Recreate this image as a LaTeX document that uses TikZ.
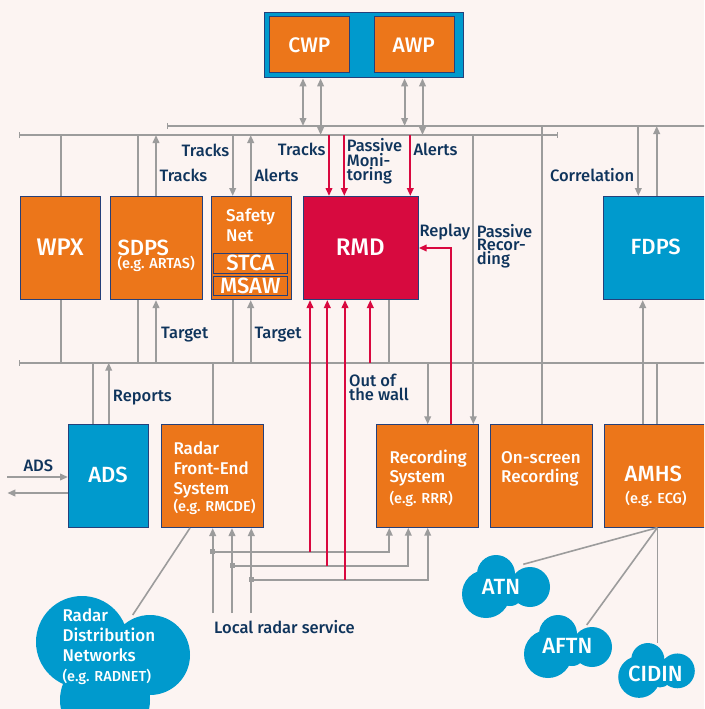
\documentclass[tikz,border=0pt]{standalone}
\usepackage{fontspec}
\setmainfont{Fira Sans}[UprightFont={* Medium}]
\usetikzlibrary{arrows.meta}
\definecolor{bgc}{RGB}{252,244,242}
\definecolor{orng}{RGB}{236,118,26}
\definecolor{blu}{RGB}{0,154,205}
\definecolor{crim}{RGB}{215,10,63}
\definecolor{bord}{RGB}{37,64,122}
\definecolor{gry}{RGB}{156,156,156}
\definecolor{navy}{RGB}{15,52,92}
\definecolor{redl}{RGB}{217,8,63}
\newcommand\fsLbl{\fontsize{16.5}{16.5}\selectfont}
\newcommand\fsTxt{\fontsize{17}{17}\selectfont}
\newcommand\fsBig{\fontsize{22}{22}\selectfont}
\newcommand\fsHuge{\fontsize{24}{24}\selectfont}
\newcommand\fsSm{\fontsize{14.5}{14.5}\selectfont}
\begin{document}
\begin{tikzpicture}[x=1pt,y=-1pt,
 >={Triangle[length=8pt,width=6.5pt]},
 gl/.style={draw=gry,line width=2pt},
 thin gl/.style={draw=gry,line width=1.6pt},
 rl/.style={draw=redl,line width=2pt},
 bx/.style={draw=bord,line width=1pt,inner sep=0pt,anchor=north west},
 wh/.style 2 args={minimum width=#1pt,minimum height=#2pt},
 ob/.style={bx,fill=orng},
 bb/.style={bx,fill=blu},
 cb/.style={bx,fill=crim},
 lbl/.style={text=navy,inner sep=0pt,font=\fsLbl,text height=11.6pt,text depth=0.6pt},
 mlbl/.style={text=navy,inner sep=0pt,align=left},
 wt/.style={text=white,inner sep=0pt,font=\fsTxt,text height=12pt,text depth=1pt},
 big/.style={text=white,inner sep=0pt,font=\fsBig},
 sm/.style={text=white,inner sep=0pt,font=\fsSm},
 jsq/.style={fill=gry,minimum size=5pt,inner sep=0pt},
 busbar/.tip={Bar[width=6pt,line width=1.2pt]},
 blob/.pic={\fill[blu] (-20,8) circle[radius=24] (-10,-12) circle[radius=19] (24,1) circle[radius=20] (4,6) circle[radius=14];}
]
\useasboundingbox (0,0) rectangle (704,709);
\clip (0,0) rectangle (704,709);
\fill[bgc] (0,0) rectangle (704,709);

% bus coordinates
\coordinate (bU) at (0,126);
\coordinate (bL) at (0,135);
\coordinate (bM) at (0,362.7);
\coordinate (bUa) at (167,126);
\coordinate (bUb) at (712,126);
\coordinate (bLa) at (19,135);
\coordinate (bLb) at (558,135);
\coordinate (bMa) at (19,362.7);
\coordinate (bMb) at (712,362.7);

% boxes
\node[bb,wh={198.9}{65}] (wsbox) at (263.6,12.3) {};
\node[ob,wh={79.9}{55.7}] (cwp) at (269.4,16) {};
\node[ob,wh={79.5}{55.7}] (awp) at (374,16) {};
\node[ob,wh={80}{103}] (wpx) at (20,196) {};
\node[ob,wh={92.3}{103}] (sdps) at (110,196) {};
\node[ob,wh={80}{103}] (sn) at (210.7,196) {};
\node[ob,wh={74}{19.4}] (stca) at (213.3,253.3) {};
\node[ob,wh={74}{19.3}] (msaw) at (213.3,276) {};
\node[cb,wh={114.7}{103}] (rmd) at (303,196) {};
\node[bb,wh={105}{103}] (fdps) at (603.3,196) {};
\node[bb,wh={79.7}{103.3}] (ads) at (68,424) {};
\node[ob,wh={102.6}{103}] (rfe) at (160.7,424) {};
\node[ob,wh={102}{102.4}] (rec) at (375.7,424.3) {};
\node[ob,wh={102}{102.4}] (osr) at (489.7,424.3) {};
\node[ob,wh={104}{102.4}] (amhs) at (604,424.3) {};

% buses
\draw[gl,{busbar}-] (bUa) -- (bUb);
\draw[gl,{busbar}-{busbar}] (bLa) -- (bLb);
\draw[gl,{busbar}-] (bMa) -- (bMb);

% workstation links
\draw[gl,<->] (303,0 |- wsbox.south) -- (303,0 |- bU);
\draw[gl,<->] (320.6,0 |- wsbox.south) -- (320.6,0 |- bL);
\draw[gl,<->] (404.6,0 |- wsbox.south) -- (404.6,0 |- bU);
\draw[gl,<->] (422.5,0 |- wsbox.south) -- (422.5,0 |- bL);

% WPX
\draw[gl] (61,0 |- bL) -- (61,0 |- wpx.north);
\draw[gl] (61,0 |- wpx.south) -- (61,0 |- bM);
% SDPS
\draw[gl] (138.3,0 |- bL) -- (138.3,0 |- sdps.north);
\draw[gl,->] (156,0 |- sdps.north) -- (156,0 |- bL);
\draw[gl] (138.3,0 |- sdps.south) -- (138.3,0 |- bM);
\draw[gl,->] (156,0 |- bM) -- (156,0 |- sdps.south);
% Safety net
\draw[gl,->] (232.7,0 |- bL) -- (232.7,0 |- sn.north);
\draw[gl,->] (250.7,0 |- sn.north) -- (250.7,0 |- bL);
\draw[gl] (232.7,0 |- sn.south) -- (232.7,0 |- bM);
\draw[gl,->] (250.7,0 |- bM) -- (250.7,0 |- sn.south);
% RMD
\draw[rl,->] (329,0 |- bL) -- (329,0 |- rmd.north);
\draw[rl,->] (344.3,0 |- bL) -- (344.3,0 |- rmd.north);
\draw[rl,->] (410.3,0 |- bL) -- (410.3,0 |- rmd.north);
\draw[rl,->] (370.3,0 |- bM) -- (370.3,0 |- rmd.south);
\draw[gl] (389.3,0 |- rmd.south) -- (389.3,0 |- bM);
% recording
\draw[gl,->] (473.3,0 |- bL) -- (473.3,0 |- rec.north);
\draw[gl,->] (427.7,0 |- bM) -- (427.7,0 |- rec.north);
\draw[rl,->] (450.7,0 |- rec.north) |- (rmd.east);
% on-screen
\draw[gl] (541.7,0 |- bU) -- (541.7,0 |- osr.north);
% FDPS
\draw[gl,->] (638.3,0 |- bU) -- (638.3,0 |- fdps.north);
\draw[gl,->] (656.7,0 |- fdps.north) -- (656.7,0 |- bU);
\draw[gl,->] (642.7,0 |- amhs.north) -- (642.7,0 |- fdps.south);
\draw[gl] (656.7,0 |- bM) -- (656.7,0 |- amhs.north);
% ADS
\draw[gl] (92.7,0 |- bM) -- (92.7,0 |- ads.north);
\draw[gl,->] (108.7,0 |- ads.north) -- (108.7,0 |- bM);
\coordinate (adsI) at (7.3,477);
\coordinate (adsO) at (7.3,493);
\draw[gl,->] (adsI) -- (adsI -| ads.west);
\draw[gl,->] (adsO -| ads.west) -- (adsO);
% radar front end
\draw[gl] (213.3,0 |- bM) -- (213.3,0 |- rfe.north);
% local radar service
\coordinate (lr1) at (212.7,613);
\coordinate (lr2) at (232,613);
\coordinate (lr3) at (251.3,613);
\draw[gl,->] (lr1) -- (lr1 |- rfe.south);
\draw[gl,->] (lr2) -- (lr2 |- rfe.south);
\draw[gl,->] (lr3) -- (lr3 |- rfe.south);
\node[jsq] (j1) at (212.7,551.7) {};
\node[jsq] (j2) at (232,565.7) {};
\node[jsq] (j3) at (251.3,579.7) {};
\draw[gl,->] (j1.center) -| (389.3,0 |- rec.south);
\draw[gl,->] (j2.center) -| (408.3,0 |- rec.south);
\draw[gl,->] (j3.center) -| (427.7,0 |- rec.south);
\coordinate (r1) at (310,551.7);
\coordinate (r2) at (327.3,565.7);
\coordinate (r3) at (345,579.7);
\draw[rl,->] (r1) -- (r1 |- rmd.south);
\draw[rl,->] (r2) -- (r2 |- rmd.south);
\draw[rl,->] (r3) -- (r3 |- rmd.south);

% cloud links
\coordinate (rdnT) at (132.7,615);
\coordinate (atnT) at (523.3,564.3);
\coordinate (aftnT) at (586.7,625);
\coordinate (cidT) at (657.3,643);
\coordinate (amB) at (657.3,0 |- amhs.south);
\draw[thin gl] (190,0 |- rfe.south) -- (rdnT);
\draw[thin gl] (amB) -- (atnT);
\draw[thin gl] (amB) -- (aftnT);
\draw[thin gl] (amB) -- (cidT);

% clouds
\fill[blu] (82,642) circle[radius=46] (150,655) circle[radius=40] (105,700) circle[radius=45];
\pic (atnc) at (506,586) {blob};
\pic (aftnc) at (568,646) {blob};
\pic[scale=0.87] (cidc) at (656.5,670) {blob};

% texts in boxes
\node[text=white,inner sep=0pt,font=\fontsize{21}{21}\selectfont,anchor=base] (tcwp) at (309.4,52.3) {CWP};
\node[text=white,inner sep=0pt,font=\fontsize{21}{21}\selectfont,anchor=base] (tawp) at (413.7,52.3) {AWP};
\node[text=white,inner sep=0pt,font=\fsHuge,anchor=base] (twpx) at (60,255) {WPX};
\node[text=white,inner sep=0pt,align=left,font=\fontsize{14.5}{13.3}\selectfont,anchor=base west] (tsdps) at (117.3,268.3) {{\fsBig SDPS}\\(e.g. ARTAS)};
\node[wt,anchor=base west] (tsn1) at (226,221.7) {Safety};
\node[wt,anchor=base west] (tsn2) at (226,241.7) {Net};
\node[big,anchor=base] (tstca) at (250.3,270.7) {STCA};
\node[big,anchor=base] (tmsaw) at (250.3,293.7) {MSAW};
\node[text=white,inner sep=0pt,font=\fsHuge,anchor=base] (trmd) at (360.3,255) {RMD};
\node[big,anchor=base] (tfdps) at (655.7,254) {FDPS};
\node[big,anchor=base] (tads) at (108,482.7) {ADS};
\node[wt,anchor=base west] (trfe1) at (173.3,454.3) {Radar};
\node[wt,anchor=base west] (trfe2) at (173.3,474) {Front-End};
\node[wt,anchor=base west] (trfe3) at (173.3,494) {System};
\node[sm,anchor=base west] (trfe4) at (173.3,511) {(e.g. RMCDE)};
\node[wt,anchor=base west] (trec1) at (389.3,463.3) {Recording};
\node[wt,anchor=base west] (trec2) at (389.3,482.7) {System};
\node[sm,anchor=base west] (trec3) at (389.3,503.3) {(e.g. RRR)};
\node[wt,anchor=base west] (tosr1) at (501,463.3) {On-screen};
\node[wt,anchor=base west] (tosr2) at (501,482.7) {Recording};
\node[big,anchor=base] (tamhs) at (653.3,481.7) {AMHS};
\node[sm,anchor=base] (tamhs2) at (656,503.3) {(e.g. ECG)};
\node[wt,anchor=base west] (trdn1) at (62.3,621.7) {Radar};
\node[wt,anchor=base west] (trdn2) at (62.3,641.7) {Distribution};
\node[wt,anchor=base west] (trdn3) at (62.3,661.7) {Networks};
\node[sm,anchor=base west] (trdn4) at (62.3,681.7) {(e.g. RADNET)};
\node[big,anchor=base] (tatn) at (501,594) {ATN};
\node[big,anchor=base] (taftn) at (567.3,653.3) {AFTN};
\node[big,anchor=base] (tcid) at (655.3,681.7) {CIDIN};

% labels
\node[lbl,anchor=base east] (lTrSN) at (229.5,156) {Tracks};
\node[lbl,anchor=base west] (lTrSD) at (159.3,181.7) {Tracks};
\node[lbl,anchor=base west] (lAlSN) at (254.3,181.7) {Alerts};
\node[lbl,anchor=base east] (lTrRM) at (325.7,155.7) {Tracks};
\node[mlbl,font=\fontsize{16.5}{12.5}\selectfont,anchor=base west] (lPM) at (346.7,180.7) {Passive\\Moni-\\toring};
\node[lbl,anchor=base west] (lAlRM) at (413.3,155.7) {Alerts};
\node[lbl,anchor=base east] (lCorr) at (634.3,181.7) {Correlation};
\node[lbl,anchor=base west] (lRep) at (419.3,236.7) {Replay};
\node[mlbl,font=\fontsize{16.5}{13.1}\selectfont,anchor=base west] (lPR) at (476.7,264.5) {Passive\\Recor-\\ding};
\node[lbl,anchor=base west] (lTgSD) at (161,338.6) {Target};
\node[lbl,anchor=base west] (lTgSN) at (254.3,338.6) {Target};
\node[lbl,anchor=base west] (lRpt) at (112.7,401.3) {Reports};
\node[lbl,anchor=base west] (lADS) at (23.3,471.7) {ADS};
\node[mlbl,font=\fontsize{16.5}{14.7}\selectfont,anchor=base west] (lOW) at (349,400.7) {Out of\\the wall};
\node[lbl,anchor=base west] (lLRS) at (214,633.3) {Local radar service};
\end{tikzpicture}
\end{document}
